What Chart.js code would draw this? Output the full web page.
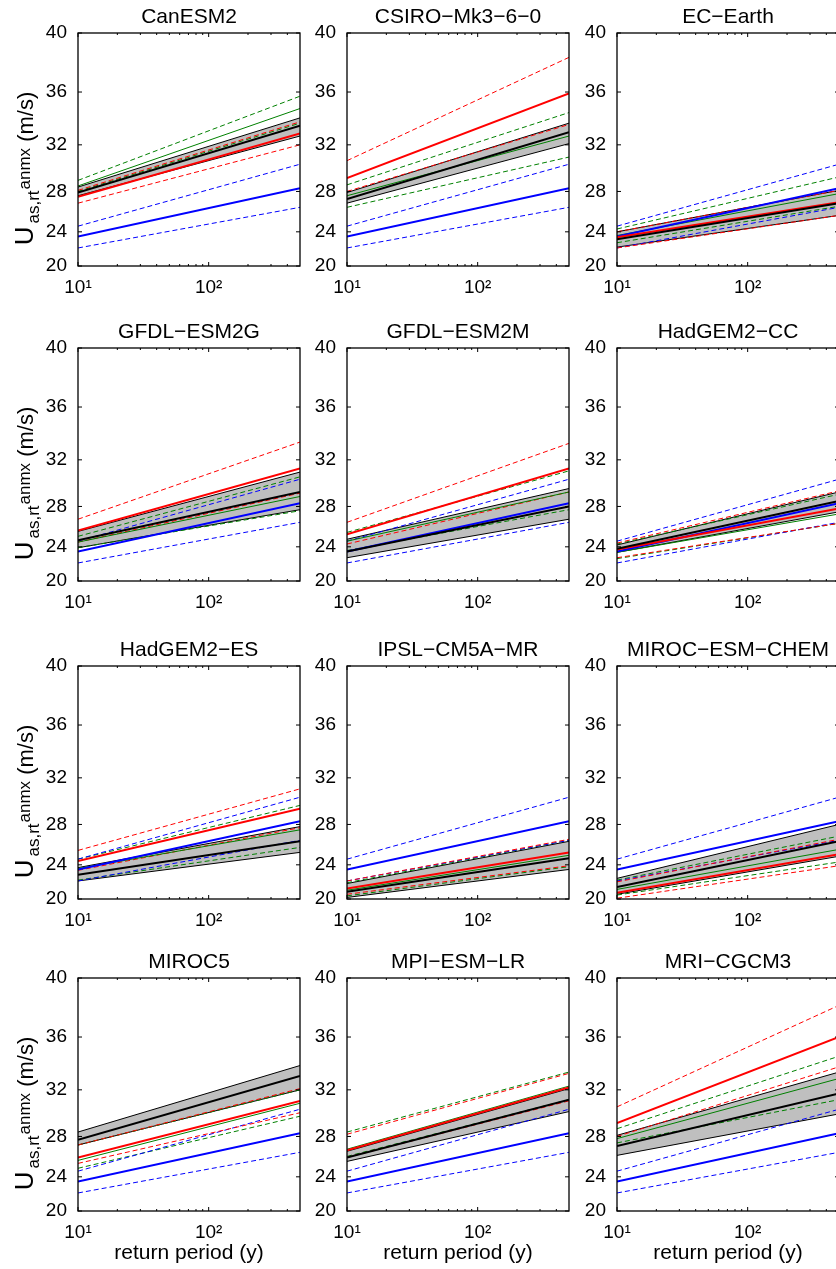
<!DOCTYPE html>
<html>
<head>
<meta charset="utf-8">
<script src="https://cdn.jsdelivr.net/npm/chart.js@4.4.0/dist/chart.umd.min.js"></script>
<style>
body { margin: 0; background: #fff; }
#fig { position: relative; width: 836px; height: 1269px; overflow: hidden; background: #fff; }
#fig canvas { position: absolute; }
</style>
</head>
<body>
<div id="fig"></div>
<script>
// panel names, return periods and tick values
const models = ["CanESM2", "CSIRO\u2212Mk3\u22126\u22120", "EC\u2212Earth", "GFDL\u2212ESM2G", "GFDL\u2212ESM2M", "HadGEM2\u2212CC",
  "HadGEM2\u2212ES", "IPSL\u2212CM5A\u2212MR", "MIROC\u2212ESM\u2212CHEM", "MIROC5", "MPI\u2212ESM\u2212LR", "MRI\u2212CGCM3"];
const returnPeriod = [10, 500];
const xTicks = [10, 100];
const xMinorTicks = [20, 30, 40, 50, 60, 70, 80, 90, 200, 300, 400];
const yTicks = [20, 24, 28, 32, 36, 40];

// wind speed (m/s) at T=10 and T=500, one pair per model
const blackMid = [[27.9,33.5],[27.3,33.0],[23.2,26.9],[24.7,29.3],[23.5,28.0],[23.8,28.5],[22.9,26.4],[20.9,24.7],[21.5,26.4],[27.7,33.1],[26.0,31.2],[27.1,31.7]];
const blackUp  = [[28.4,34.1],[27.9,33.7],[24.0,28.1],[25.6,31.0],[24.8,29.6],[24.2,29.3],[23.7,27.8],[21.9,26.4],[22.5,28.0],[28.4,33.9],[26.6,32.1],[28.1,33.4]];
const blackLo  = [[27.6,32.7],[26.9,32.1],[22.3,25.7],[23.9,27.7],[22.8,26.8],[23.4,27.5],[22.2,25.3],[20.2,23.5],[20.6,24.9],[27.2,32.0],[25.6,30.2],[26.2,30.0]];
const red      = [[27.5,32.9],[29.2,35.9],[23.4,27.0],[25.7,31.3],[25.3,31.3],[23.7,27.8],[24.4,29.4],[21.3,25.3],[20.8,25.1],[26.0,31.1],[26.7,32.2],[29.2,36.0]];
const redUp    = [[28.1,33.8],[30.7,38.4],[24.0,28.1],[26.8,33.4],[26.5,33.3],[24.4,29.4],[25.5,31.1],[22.2,26.6],[22.1,26.6],[27.2,32.1],[28.2,33.3],[30.6,38.2]];
const redLo    = [[26.9,32.0],[28.0,33.6],[22.2,25.7],[24.5,29.2],[24.3,29.3],[22.8,26.4],[23.4,27.7],[20.6,23.9],[20.1,23.9],[25.4,30.1],[26.0,31.1],[28.0,33.8]];
const green    = [[28.5,34.8],[27.6,32.7],[23.6,27.8],[24.5,28.9],[24.6,29.3],[23.4,27.3],[23.6,27.5],[21.1,25.0],[21.2,25.6],[25.7,30.9],[26.8,32.3],[27.8,32.9]];
const greenUp  = [[29.0,35.7],[28.6,34.5],[24.3,29.3],[25.1,30.6],[25.5,31.1],[24.3,29.1],[24.6,29.7],[22.0,26.5],[22.3,26.9],[27.2,32.0],[28.4,33.4],[28.7,34.6]];
const greenLo  = [[28.0,33.7],[26.5,31.0],[22.8,26.6],[23.9,27.6],[23.6,27.7],[22.7,26.4],[22.3,25.8],[20.4,23.8],[20.5,24.3],[24.9,29.8],[26.1,31.2],[27.4,31.2]];
// the blue reference is the same in every panel
const blue   = [23.5, 28.3];
const blueUp = [24.6, 30.4];
const blueLo = [22.2, 26.5];

const FONT = "'Liberation Sans', Arial, Helvetica, sans-serif";
const colLeft = [78, 347, 617];
const rowTop = [33, 348, 666, 978];
const plotW = 222, plotH = 233, axW = 78;

// y axis of the original is linear in U^2
const LinearBase = Chart.LinearScale || Chart.registry.getScale('linear');
class SquareScale extends LinearBase {
  getPixelForValue(value) {
    const a = this.min * this.min, b = this.max * this.max;
    return this.getPixelForDecimal((value * value - a) / (b - a));
  }
  getValueForPixel(pixel) {
    const a = this.min * this.min, b = this.max * this.max;
    return Math.sqrt(a + this.getDecimalForPixel(pixel) * (b - a));
  }
}
SquareScale.id = 'square';
SquareScale.defaults = {};
Chart.register(SquareScale);

function drawYLabel(ctx, a) {
  // text, size, baseline shift, gap after
  const parts = [['U', 26, 0, 3], ['as,rt', 17, 6, 1], ['anmx', 17, -3, 0], [' (m/s)', 22, 0, 0]];
  let total = 0;
  parts.forEach(p => {
    ctx.font = p[1] + 'px ' + FONT;
    p.push(ctx.measureText(p[0]).width + p[3]);
    total += p[4];
  });
  ctx.save();
  ctx.translate(33, (a.top + a.bottom) / 2 + 19);
  ctx.rotate(-Math.PI / 2);
  ctx.textAlign = 'left';
  ctx.textBaseline = 'alphabetic';
  let xx = -total / 2;
  parts.forEach(p => {
    ctx.font = p[1] + 'px ' + FONT;
    ctx.fillText(p[0], xx, p[2]);
    xx += p[4];
  });
  ctx.restore();
}

const matlabAxes = {
  id: 'matlabAxes',
  afterDatasetsDraw(chart, args, opts) {
    const ctx = chart.ctx, a = chart.chartArea;
    const x = chart.scales.x, y = chart.scales.y;
    ctx.save();
    ctx.strokeStyle = '#000';
    ctx.lineWidth = 1;
    ctx.beginPath();
    yTicks.forEach(v => {
      const p = y.getPixelForValue(v);
      ctx.moveTo(a.left, p); ctx.lineTo(a.left + 4, p);
      ctx.moveTo(a.right, p); ctx.lineTo(a.right - 4, p);
    });
    xTicks.forEach(v => {
      const p = x.getPixelForValue(v);
      ctx.moveTo(p, a.bottom); ctx.lineTo(p, a.bottom - 4);
      ctx.moveTo(p, a.top); ctx.lineTo(p, a.top + 4);
    });
    xMinorTicks.forEach(v => {
      const p = x.getPixelForValue(v);
      ctx.moveTo(p, a.bottom); ctx.lineTo(p, a.bottom - 2);
      ctx.moveTo(p, a.top); ctx.lineTo(p, a.top + 2);
    });
    ctx.stroke();
    ctx.lineWidth = 1.3;
    ctx.strokeRect(a.left, a.top, a.right - a.left, a.bottom - a.top);
    ctx.fillStyle = '#000';
    ctx.font = '21px ' + FONT;
    ctx.textAlign = 'center';
    ctx.textBaseline = 'alphabetic';
    ctx.fillText(opts.title, (a.left + a.right) / 2, a.top - 10);
    if (opts.yLabel) drawYLabel(ctx, a);
    ctx.restore();
  }
};

function line(pair, color, width, dash) {
  return {
    data: returnPeriod.map((t, i) => ({x: t, y: pair[i]})),
    borderColor: color, borderWidth: width, borderDash: dash || [],
    pointRadius: 0, fill: false, tension: 0
  };
}

const fig = document.getElementById('fig');
models.forEach((name, i) => {
  const r = Math.floor(i / 3), c = i % 3;
  const last = r === 3;
  const W = axW + plotW + 4;
  const H = last ? 324 : 300;
  const cv = document.createElement('canvas');
  cv.width = W; cv.height = H;
  cv.style.left = (colLeft[c] - axW) + 'px';
  cv.style.top = (rowTop[r] - 33) + 'px';
  cv.style.width = W + 'px'; cv.style.height = H + 'px';
  fig.appendChild(cv);

  const dash = [5, 3];
  const band = line(blackUp[i], '#000', 1);
  band.fill = '+1';
  band.backgroundColor = '#bfbfbf';
  const datasets = [
    line(blackMid[i], '#000', 2),
    line(red[i], '#ff0000', 2),
    line(blue, '#0000ff', 2),
    line(green[i], '#008000', 1),
    line(redUp[i], '#ff0000', 1, dash),
    line(redLo[i], '#ff0000', 1, dash),
    line(blueUp, '#0000ff', 1, dash),
    line(blueLo, '#0000ff', 1, dash),
    line(greenUp[i], '#008000', 1, dash),
    line(greenLo[i], '#008000', 1, dash),
    band,
    line(blackLo[i], '#000', 1)
  ];

  new Chart(cv, {
    type: 'line',
    data: {datasets: datasets},
    plugins: [matlabAxes],
    options: {
      responsive: false,
      animation: false,
      devicePixelRatio: 1,
      layout: {padding: {top: 33, left: 0, right: 4, bottom: 0}, autoPadding: false},
      plugins: {
        legend: {display: false},
        tooltip: {enabled: false},
        filler: {drawTime: 'beforeDatasetsDraw'},
        matlabAxes: {title: name, yLabel: c === 0}
      },
      scales: {
        x: {
          type: 'logarithmic',
          position: 'bottom',
          min: 10, max: 500,
          afterBuildTicks: s => { s.ticks = xTicks.map(v => ({value: v})); },
          afterFit: s => { s.height = H - 33 - plotH; },
          grid: {display: false},
          border: {display: false},
          ticks: {
            autoSkip: false, maxRotation: 0, padding: 2, color: '#000',
            font: {size: 19, family: FONT},
            callback: v => v === 10 ? '10\u00b9' : (v === 100 ? '10\u00b2' : '')
          },
          title: {
            display: last, text: 'return period (y)', color: '#000',
            font: {size: 21, family: FONT}, padding: {top: 0, bottom: 3}
          }
        },
        y: {
          type: 'square',
          position: 'left',
          min: 20, max: 40,
          afterBuildTicks: s => { s.ticks = yTicks.map(v => ({value: v})); },
          afterFit: s => { s.width = axW; },
          grid: {display: false},
          border: {display: false},
          ticks: {
            padding: 3, color: '#000',
            font: {size: 19, family: FONT},
            callback: v => String(v)
          }
        }
      }
    }
  });
});
</script>
</body>
</html>
